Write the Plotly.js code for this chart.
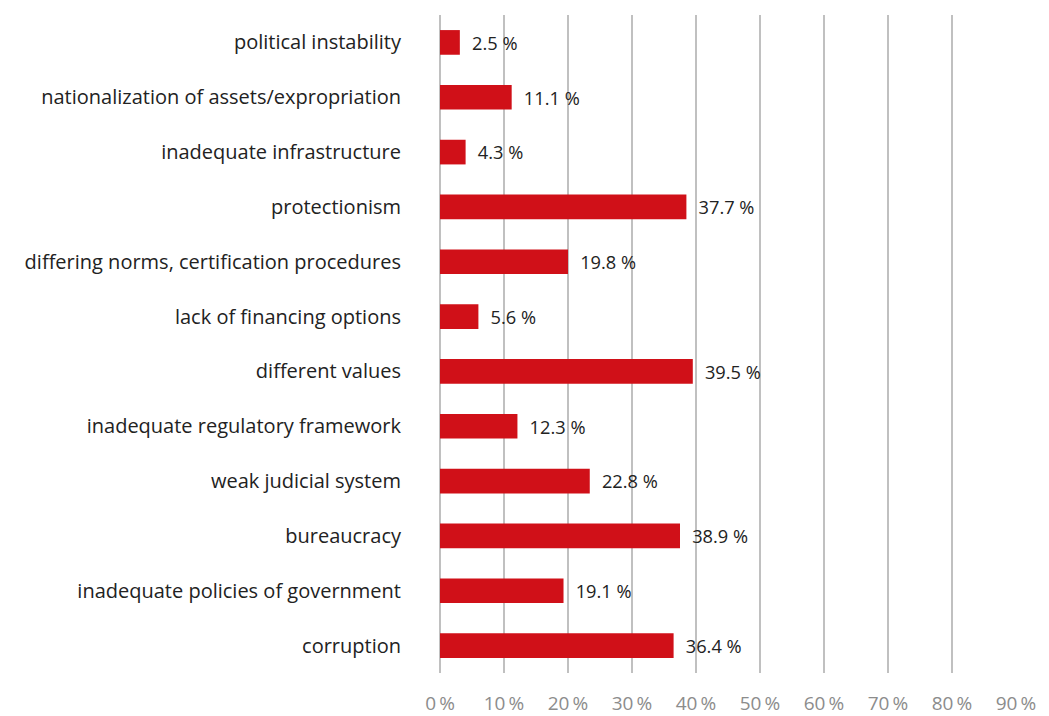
<!DOCTYPE html>
<html>
<head>
<meta charset="utf-8">
<script src="https://cdn.plot.ly/plotly-3.0.1.min.js"></script>
<style>html,body{margin:0;padding:0;background:#fff;}#chart{width:1049px;height:716px;}</style>
</head>
<body>
<div id="chart"></div>
<script>
const categories = [
  "political instability",
  "nationalization of assets/expropriation",
  "inadequate infrastructure",
  "protectionism",
  "differing norms, certification procedures",
  "lack of financing options",
  "different values",
  "inadequate regulatory framework",
  "weak judicial system",
  "bureaucracy",
  "inadequate policies of government",
  "corruption"
];
// bar lengths as drawn in the reference
const barValues = [3.1, 11.2, 4.0, 38.5, 20.0, 6.0, 39.5, 12.1, 23.4, 37.5, 19.3, 36.5];
// value labels as printed in the reference
const valueLabels = ["2.5 %", "11.1 %", "4.3 %", "37.7 %", "19.8 %", "5.6 %", "39.5 %", "12.3 %", "22.8 %", "38.9 %", "19.1 %", "36.4 %"];
const tickValues = [0, 10, 20, 30, 40, 50, 60, 70, 80, 90];
const tickLabels = ["0\u2009%", "10\u2009%", "20\u2009%", "30\u2009%", "40\u2009%", "50\u2009%", "60\u2009%", "70\u2009%", "80\u2009%", "90\u2009%"];

const trace = {
  type: "bar",
  orientation: "h",
  y: categories,
  x: barValues,
  marker: {color: "#d01018"},
  text: valueLabels.map(s => "\u2002" + s),
  textposition: "outside",
  cliponaxis: false,
  textfont: {family: "Open Sans, sans-serif", size: 18.5, color: "#222"},
  hoverinfo: "none"
};

const layout = {
  width: 1049, height: 716,
  margin: {l: 440, r: 33, t: 15, b: 43},
  paper_bgcolor: "#fff", plot_bgcolor: "#fff",
  bargap: 0.55,
  showlegend: false,
  font: {family: "Open Sans, sans-serif"},
  xaxis: {
    range: [0, 90],
    tickvals: tickValues,
    ticktext: tickLabels,
    showgrid: true,
    gridcolor: "#c0c0c0",
    gridwidth: 1.5,
    zeroline: true,
    zerolinecolor: "#c0c0c0",
    zerolinewidth: 1.5,
    showline: false,
    ticks: "",
    tickfont: {size: 19, color: "#8c8c8c"},
    ticklabelstandoff: 17
  },
  yaxis: {
    type: "category",
    autorange: "reversed",
    showgrid: false,
    zeroline: false,
    showline: false,
    ticks: "",
    ticklabelstandoff: 38,
    tickfont: {size: 20, color: "#222"}
  }
};

Plotly.newPlot("chart", [trace], layout, {displayModeBar: false, staticPlot: true});
</script>
</body>
</html>
